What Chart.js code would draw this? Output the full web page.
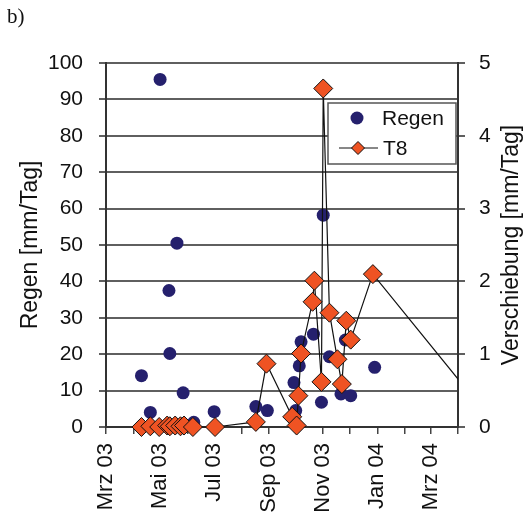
<!DOCTYPE html>
<html>
<head>
<meta charset="utf-8">
<script src="https://cdn.jsdelivr.net/npm/chart.js@4"></script>
<style>
  html, body { margin: 0; padding: 0; background: #fff; }
</style>
</head>
<body>
<canvas id="chart" width="527" height="517"></canvas>
<script>
// axis: days counted from 1 Mar 2003
const startDate = '2003-03-01';
const endDate = '2004-04-01';
const monthTicks = ['2003-03-01', '2003-04-01', '2003-05-01', '2003-06-01', '2003-07-01', '2003-08-01', '2003-09-01',
    '2003-10-01', '2003-11-01', '2003-12-01', '2004-01-01', '2004-02-01', '2004-03-01', '2004-04-01'];
const monthLabels = ['Mrz 03', '', 'Mai 03', '', 'Jul 03', '', 'Sep 03', '', 'Nov 03', '', 'Jan 04', '', 'Mrz 04', ''];

// Regen [mm/Tag]
const regenDates = ['2003-04-10', '2003-04-20', '2003-05-01', '2003-05-11', '2003-05-12', '2003-05-20', '2003-05-27',
    '2003-06-08', '2003-07-01', '2003-08-17', '2003-08-30', '2003-09-29', '2003-10-01', '2003-10-05', '2003-10-07',
    '2003-10-21', '2003-10-30', '2003-11-01', '2003-11-08', '2003-11-21', '2003-11-26', '2003-12-02', '2003-12-29'];
const regenValues = [14.1, 4.0, 95.5, 37.5, 20.2, 50.5, 9.4, 1.3, 4.2, 5.6, 4.5, 12.2, 4.5, 16.8, 23.4,
    25.5, 6.8, 58.2, 19.3, 9.1, 23.9, 8.6, 16.4];

// T8 Verschiebung [mm/Tag]
const t8Dates = ['2003-04-10', '2003-04-20', '2003-04-30', '2003-05-09', '2003-05-12', '2003-05-18', '2003-05-24',
    '2003-05-28', '2003-06-07', '2003-07-02', '2003-08-17', '2003-08-29', '2003-09-27', '2003-10-02', '2003-10-04',
    '2003-10-07', '2003-10-20', '2003-10-22', '2003-10-30', '2003-11-01', '2003-11-08', '2003-11-17', '2003-11-22',
    '2003-11-27', '2003-12-02', '2003-12-27', '2004-05-15'];
const t8Values = [0, 0.01, 0, 0.02, 0.01, 0.02, 0.01, 0.02, 0, 0, 0.07, 0.87, 0.14, 0.02, 0.43,
    1.01, 1.72, 2.01, 0.62, 4.65, 1.57, 0.93, 0.59, 1.46, 1.20, 2.10, 0];

const fontFamily = "'Liberation Sans', Arial, sans-serif";
const regenColor = '#25206d';
const t8Color = '#ef5323';

function dayOf(d) {
    return (Date.parse(d) - Date.parse(startDate)) / 86400000;
}

const tickDays = monthTicks.map(dayOf);
const regenPoints = regenDates.map((d, i) => ({ x: dayOf(d), y: regenValues[i] }));
const t8Points = t8Dates.map((d, i) => ({ x: dayOf(d), y: t8Values[i] }));

// titles, "b)" and the boxed legend
const extras = {
    id: 'extras',
    afterDraw(chart) {
        const ctx = chart.ctx;
        const area = chart.chartArea;
        const midY = (area.top + area.bottom) / 2;
        ctx.save();
        ctx.fillStyle = '#111';

        ctx.font = "21px 'Liberation Serif', 'Times New Roman', serif";
        ctx.textAlign = 'left';
        ctx.textBaseline = 'alphabetic';
        ctx.fillText('b)', 7, 23);

        ctx.font = '23px ' + fontFamily;
        ctx.textAlign = 'center';
        ctx.textBaseline = 'middle';
        ctx.save();
        ctx.translate(31, midY);
        ctx.rotate(-Math.PI / 2);
        ctx.fillText('Regen [mm/Tag]', 0, 0);
        ctx.restore();
        ctx.save();
        ctx.translate(512, midY);
        ctx.rotate(-Math.PI / 2);
        ctx.fillText('Verschiebung [mm/Tag]', 0, 0);
        ctx.restore();

        // legend
        const lx = 328, ly = 103, lw = 128, lh = 61;
        ctx.fillStyle = '#fff';
        ctx.fillRect(lx, ly, lw, lh);
        ctx.strokeStyle = '#555';
        ctx.lineWidth = 1.5;
        ctx.strokeRect(lx, ly, lw, lh);

        ctx.fillStyle = regenColor;
        ctx.beginPath();
        ctx.arc(357, 118, 6.5, 0, Math.PI * 2);
        ctx.fill();

        ctx.strokeStyle = '#111';
        ctx.lineWidth = 1;
        ctx.beginPath();
        ctx.moveTo(339, 148);
        ctx.lineTo(378, 148);
        ctx.stroke();
        ctx.fillStyle = t8Color;
        ctx.beginPath();
        ctx.moveTo(358, 141.5);
        ctx.lineTo(364.5, 148);
        ctx.lineTo(358, 154.5);
        ctx.lineTo(351.5, 148);
        ctx.closePath();
        ctx.fill();
        ctx.stroke();

        ctx.fillStyle = '#111';
        ctx.font = '21px ' + fontFamily;
        ctx.textAlign = 'left';
        ctx.textBaseline = 'middle';
        ctx.fillText(chart.data.datasets[1].label, 382, 119);
        ctx.fillText(chart.data.datasets[0].label, 383, 149);
        ctx.restore();
    }
};

const tickFont = { family: fontFamily, size: 21 };

new Chart(document.getElementById('chart'), {
    type: 'scatter',
    data: {
        datasets: [{
            label: 'T8',
            data: t8Points,
            yAxisID: 'y2',
            showLine: true,
            borderColor: '#111',
            borderWidth: 1.2,
            pointStyle: 'rectRot',
            pointRadius: 9.5,
            pointBackgroundColor: t8Color,
            pointBorderColor: '#111',
            pointBorderWidth: 1,
            clip: { left: 20, top: 20, right: 0, bottom: 20 }
        }, {
            label: 'Regen',
            data: regenPoints,
            yAxisID: 'y',
            pointStyle: 'circle',
            pointRadius: 6.5,
            backgroundColor: regenColor,
            borderWidth: 0,
            clip: false
        }]
    },
    options: {
        responsive: false,
        animation: false,
        layout: { padding: { top: 63, left: 0, right: 0, bottom: 0 } },
        plugins: { legend: { display: false }, tooltip: { enabled: false } },
        scales: {
            x: {
                type: 'linear',
                min: 0,
                max: dayOf(endDate),
                afterBuildTicks: scale => { scale.ticks = tickDays.map(v => ({ value: v })); },
                afterFit: scale => { scale.height = 90; },
                ticks: {
                    autoSkip: false,
                    minRotation: 90,
                    maxRotation: 90,
                    padding: 9,
                    color: '#111',
                    font: { family: fontFamily, size: 22 },
                    callback: (value, index) => monthLabels[index]
                },
                grid: { drawOnChartArea: false, tickLength: 7, color: '#444', lineWidth: 1.5 },
                border: { color: '#333', width: 2 }
            },
            y: {
                position: 'left',
                min: 0,
                max: 100,
                afterFit: scale => { scale.width = 106; },
                ticks: { stepSize: 10, padding: 16, color: '#111', font: tickFont },
                grid: { color: '#5f5f5f', lineWidth: 2, tickLength: 7 },
                border: { color: '#333', width: 2 }
            },
            y2: {
                position: 'right',
                min: 0,
                max: 5,
                afterFit: scale => { scale.width = 69; },
                ticks: { stepSize: 1, padding: 14, color: '#111', font: tickFont },
                grid: { drawOnChartArea: false, color: '#5f5f5f', lineWidth: 2, tickLength: 7 },
                border: { color: '#333', width: 2 }
            }
        }
    },
    plugins: [extras]
});
</script>
</body>
</html>
